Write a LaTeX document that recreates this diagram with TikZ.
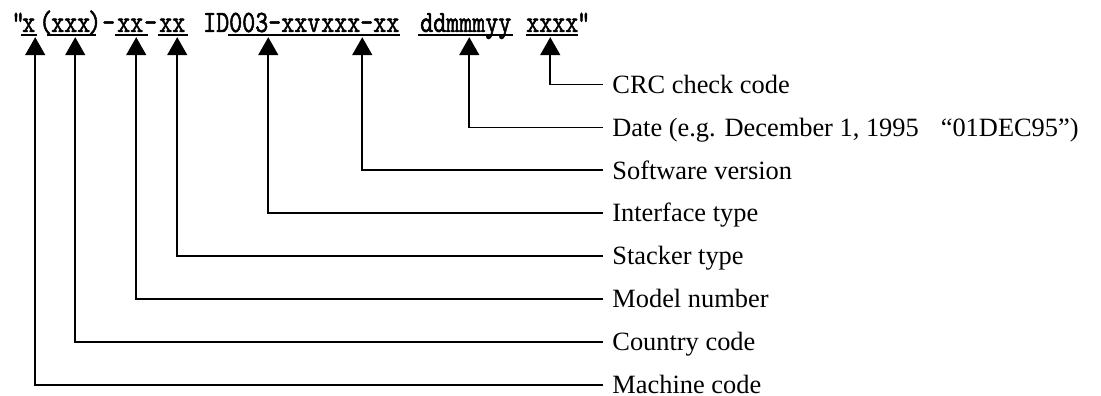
\documentclass[tikz,border=0pt]{standalone}
\usepackage{fontspec}
\setmainfont{Liberation Serif}
\newfontfamily\codefont[FakeStretch=0.80,FakeBold=1.6]{lmmono10-regular.otf}
\usetikzlibrary{arrows.meta}
\begin{document}
\begin{tikzpicture}[x=1pt,y=-1pt,
  code/.style={font=\codefont\fontsize{31}{31}\selectfont,inner sep=0pt,anchor=base west,text depth=5pt},
  lbl/.style={font=\fontsize{26.4}{28}\selectfont,anchor=west,inner xsep=9.2pt,inner ysep=0pt,text height=17.4pt,text depth=0pt},
  uline/.style={line width=1.8pt},
  conn/.style={line width=1.7pt,-{Triangle[width=20pt,length=18pt]}}]
\useasboundingbox (0,0) rectangle (1101,396);
% code string
\node[code] (q1) at (11.5,32) {"};
\node[code] (s1) at (22,32) {x};
\node[code] (lp) at (39,32) {(};
\node[code] (s2) at (51,32) {xxx};
\node[code] (rp) at (88,32) {)};
\node[code] (d1) at (102,32) {-};
\node[code] (s3) at (117,32) {xx};
\node[code] (d2) at (144,32) {-};
\node[code] (s4) at (159,32) {xx};
\node[code] (id) at (203,32) {ID};
\node[code] (s5) at (229,32) {003-xxv};
\node[code] (s6) at (321,32) {xxx-xx};
\node[code] (s7) at (420,32) {ddmmmyy};
\node[code] (s8) at (526,32) {xxxx};
\node[code] (q2) at (577,32) {"};
% underlines
\draw[uline] ([xshift=-1pt,yshift=2.5pt]s1.south west) -- ([xshift=2pt,yshift=2.5pt]s1.south east);
\draw[uline] ([xshift=-4pt,yshift=2.5pt]s2.south west) -- ([xshift=6pt,yshift=2.5pt]s2.south east);
\draw[uline] ([xshift=-2pt,yshift=2.5pt]s3.south west) -- ([xshift=5pt,yshift=2.5pt]s3.south east);
\draw[uline] ([xshift=-1pt,yshift=2.5pt]s4.south west) -- ([xshift=3pt,yshift=2.5pt]s4.south east);
\draw[uline] ([xshift=-1pt,yshift=2.5pt]s5.south west) -- ([yshift=2.5pt]s5.south east);
\draw[uline] ([yshift=2.5pt]s6.south west) -- ([yshift=2.5pt]s6.south east);
\draw[uline] ([xshift=-2pt,yshift=2.5pt]s7.south west) -- ([xshift=1pt,yshift=2.5pt]s7.south east);
\draw[uline] ([yshift=2.5pt]s8.south west) -- ([yshift=2.5pt]s8.south east);
% labels
\node[lbl] (l8) at (603,84.5) {CRC check code};
\node[lbl] (l7) at (603,127.4) {Date (e.g. December 1, 1995\hspace{22pt}“01DEC95”)};
\node[lbl] (l6) at (603,170.3) {Software version};
\node[lbl] (l5) at (603,213.2) {Interface type};
\node[lbl] (l4) at (603,256.1) {Stacker type};
\node[lbl] (l3) at (603,299) {Model number};
\node[lbl] (l2) at (603,341.9) {Country code};
\node[lbl] (l1) at (603,384.8) {Machine code};
% connectors
\draw[conn] (l8.west) -| ([xshift=-2pt]s8.south);
\draw[conn] (l7.west) -| ([xshift=3.5pt]s7.south);
\draw[conn] (l6.west) -| ([xshift=2pt]s6.south);
\draw[conn] (l5.west) -| ([xshift=-6.5pt]s5.south);
\draw[conn] (l4.west) -| ([xshift=5pt]s4.south);
\draw[conn] (l3.west) -| ([xshift=6pt]s3.south);
\draw[conn] (l2.west) -| ([xshift=4.5pt]s2.south);
\draw[conn] (l1.west) -| ([xshift=6.5pt]s1.south);
\end{tikzpicture}
\end{document}
